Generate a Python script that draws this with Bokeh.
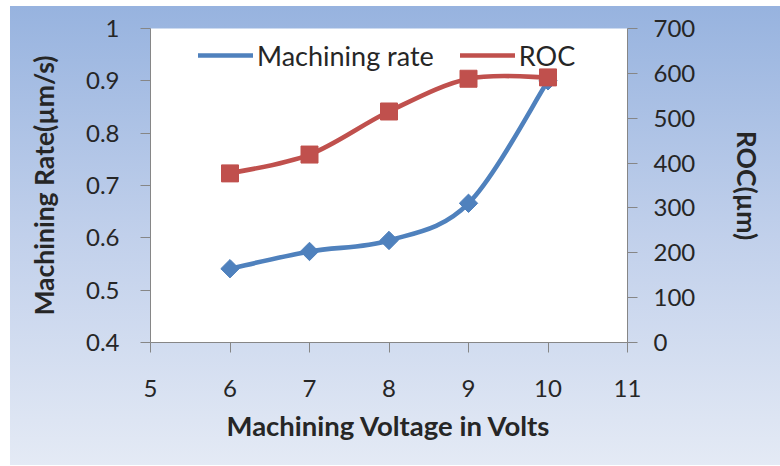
from bokeh.plotting import figure
from bokeh.models import (Range1d, LinearAxis, FixedTicker, Legend, LegendItem,
                          ColumnDataSource)
from bokeh.embed import file_html
from bokeh.resources import INLINE

# Data
voltage = [6, 7, 8, 9, 10]
machining_rate = [0.541, 0.574, 0.595, 0.666, 0.900]
roc = [377, 419, 515, 588, 591]

x_ticks = [5, 6, 7, 8, 9, 10, 11]
rate_ticks = [0.4, 0.5, 0.6, 0.7, 0.8, 0.9, 1.0]
rate_tick_labels = ["0.4", "0.5", "0.6", "0.7", "0.8", "0.9", "1"]
roc_ticks = [0, 100, 200, 300, 400, 500, 600, 700]

BLUE = "#4F81BD"
RED = "#C0504D"
AXIS = "#868686"
TEXT = "#262626"
FONT = "Lato"


def smooth_segments(xs, ys):
    """Cubic Bezier segments (Catmull-Rom style) through the data points."""
    n = len(xs)
    seg = dict(x0=[], y0=[], x1=[], y1=[], cx0=[], cy0=[], cx1=[], cy1=[])
    for i in range(n - 1):
        xp, yp = (xs[i - 1], ys[i - 1]) if i > 0 else (xs[i], ys[i])
        xn, yn = (xs[i + 2], ys[i + 2]) if i + 2 < n else (xs[i + 1], ys[i + 1])
        seg["x0"].append(xs[i]); seg["y0"].append(ys[i])
        seg["x1"].append(xs[i + 1]); seg["y1"].append(ys[i + 1])
        seg["cx0"].append(xs[i] + (xs[i + 1] - xp) / 6)
        seg["cy0"].append(ys[i] + (ys[i + 1] - yp) / 6)
        seg["cx1"].append(xs[i + 1] - (xn - xs[i]) / 6)
        seg["cy1"].append(ys[i + 1] - (yn - ys[i]) / 6)
    return ColumnDataSource(seg)


p = figure(width=770, height=459, output_backend="svg", toolbar_location=None,
           x_range=Range1d(5, 11), y_range=Range1d(0.4, 1.0),
           min_border_left=140, min_border_right=153,
           min_border_top=22, min_border_bottom=123)
p.margin = (6, 0, 0, 10)
p.styles = {"background": "linear-gradient(180deg, #97B3DF 0%, #C1D0EB 50%, #E4EAF5 100%)"}
p.border_fill_color = None
p.background_fill_color = "white"
p.outline_line_color = None
p.grid.visible = False
p.extra_y_ranges = {"roc": Range1d(0, 700)}


def style_axis(ax):
    ax.axis_line_color = AXIS
    ax.major_tick_line_color = AXIS
    ax.major_tick_out = 10
    ax.major_tick_in = 0
    ax.minor_tick_line_color = None
    ax.major_label_text_font = FONT
    ax.major_label_text_font_size = "24px"
    ax.major_label_text_color = TEXT
    ax.axis_label_text_font = FONT
    ax.axis_label_text_font_size = "26.5px"
    ax.axis_label_text_font_style = "bold"
    ax.axis_label_text_color = TEXT


xa = p.xaxis[0]
style_axis(xa)
xa.ticker = FixedTicker(ticks=x_ticks)
xa.axis_label = "Machining Voltage in Volts"
xa.axis_label_text_font_size = "27.5px"
xa.major_label_standoff = 27
xa.axis_label_standoff = 9

ya = p.yaxis[0]
style_axis(ya)
ya.ticker = FixedTicker(ticks=rate_ticks)
ya.major_label_overrides = {t: s for t, s in zip(rate_ticks, rate_tick_labels)}
ya.axis_label = "Machining Rate(µm/s)"
ya.major_label_standoff = 21
ya.axis_label_standoff = 23

ra = LinearAxis(y_range_name="roc")
style_axis(ra)
ra.ticker = FixedTicker(ticks=roc_ticks)
ra.axis_label = "ROC(µm)"
ra.major_label_standoff = 16
ra.axis_label_standoff = 33
p.add_layout(ra, "right")

# Machining rate series
rate_curve = p.bezier(x0="x0", y0="y0", x1="x1", y1="y1", cx0="cx0", cy0="cy0",
                      cx1="cx1", cy1="cy1", source=smooth_segments(voltage, machining_rate),
                      line_color=BLUE, line_width=4.6, line_cap="round")
# ROC series
roc_curve = p.bezier(x0="x0", y0="y0", x1="x1", y1="y1", cx0="cx0", cy0="cy0",
                     cx1="cx1", cy1="cy1", source=smooth_segments(voltage, roc),
                     line_color=RED, line_width=4.6, line_cap="round", y_range_name="roc")

p.scatter(voltage, machining_rate, marker="square", angle=0.785398, size=13,
          fill_color=BLUE, line_color=BLUE)
p.scatter(voltage, roc, marker="square", size=17, fill_color=RED, line_color=RED,
          y_range_name="roc")

# legend markers
rate_key = p.scatter([], [], marker="diamond", fill_color=BLUE, line_color=BLUE)
roc_key = p.scatter([], [], marker="square", fill_color=RED, line_color=RED,
                    y_range_name="roc")

legend = Legend(items=[LegendItem(label="Machining rate", renderers=[rate_curve, rate_key]),
                       LegendItem(label="ROC", renderers=[roc_curve, roc_key])],
                orientation="horizontal", location=(48, 267),
                glyph_width=55, glyph_height=40, label_standoff=4, spacing=26,
                padding=0, margin=0,
                background_fill_alpha=0, border_line_color=None,
                label_text_font=FONT, label_text_font_size="27px",
                label_text_color=TEXT)
p.add_layout(legend)

open("out.html", "w").write(file_html(p, INLINE))
